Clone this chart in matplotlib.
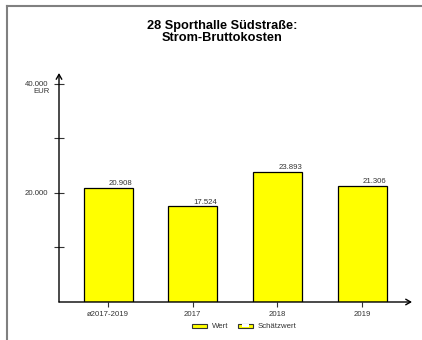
import matplotlib
matplotlib.use("Agg")
import matplotlib.pyplot as plt
from matplotlib.patches import Rectangle
from matplotlib.lines import Line2D

plt.rcParams['font.family'] = ['Liberation Sans', 'DejaVu Sans']

categories = ["ø2017-2019", "2017", "2018", "2019"]
values = [20908, 17524, 23893, 21306]
value_labels = ["20.908", "17.524", "23.893", "21.306"]
yticks = [10000, 20000, 30000, 40000]
ytick_labels = ["", "20.000", "", "40.000"]
title = "28 Sporthalle Südstraße:\nStrom-Bruttokosten"
unit = "EUR"
legend_labels = ["Wert", "Schätzwert"]

W, H = 422, 340
fig = plt.figure(figsize=(W / 100, H / 100), dpi=100)
fig.patch.set_facecolor("white")

# axes: x from px 59 to 412, y from px 302 (bottom) to 73 (top)
ax = fig.add_axes([59 / W, (H - 302) / H, (412 - 59) / W, (302 - 73) / H])
ax.set_facecolor("none")
x = list(range(len(categories)))
ax.bar(x, values, width=0.58, color="#ffff00", edgecolor="black", linewidth=0.9, zorder=3)
ax.set_xlim(-0.58, 3.59)
ax.set_ylim(0, 42000)

for s in ax.spines.values():
    s.set_visible(False)

# axes with arrows
ax.annotate("", xy=(0, 1), xytext=(0, 0), xycoords="axes fraction",
            arrowprops=dict(arrowstyle="->,head_length=0.35,head_width=0.2", lw=1.0, color="black",
                            shrinkA=0, shrinkB=0))
ax.annotate("", xy=(1, 0), xytext=(0, 0), xycoords="axes fraction",
            arrowprops=dict(arrowstyle="->,head_length=0.35,head_width=0.2", lw=1.0, color="black",
                            shrinkA=0, shrinkB=0))

ax.set_yticks(yticks)
ax.set_yticklabels(ytick_labels, fontsize=5.6, color="#333333")
ax.tick_params(axis="y", direction="inout", length=7, width=0.8, pad=4, color="#333333")
ax.set_xticks(x)
ax.set_xticklabels(categories, fontsize=5.6, color="#333333")
ax.tick_params(axis="x", direction="out", length=3.5, width=0.8, pad=3, color="#333333")

ax.annotate(unit, xy=(0, 40000), xycoords=("axes fraction", "data"),
            xytext=(-6.3, -3), textcoords="offset points", ha="right", va="top",
            fontsize=5.6, color="#333333")

for xi, v, lab in zip(x, values, value_labels):
    ax.text(xi + 0.29, v + 150, lab, ha="right", va="bottom", fontsize=5.6, color="#333333", zorder=4)

fig.text(222 / W, 1 - 19.5 / H, title, ha="center", va="top", fontsize=9.2,
         fontweight="bold", linespacing=1.1)

# legend
fig.patches.append(Rectangle((192 / W, (H - 328) / H), 15 / W, 4.5 / H, transform=fig.transFigure,
                             facecolor="#ffff00", edgecolor="#333333", linewidth=0.8))
fig.text(212 / W, (H - 326) / H, legend_labels[0], ha="left", va="center", fontsize=5.6, color="#333333")
fig.patches.append(Rectangle((238 / W, (H - 328) / H), 15 / W, 4.5 / H, transform=fig.transFigure,
                             facecolor="#ffff00", edgecolor="#333333", linewidth=0.8))
fig.patches.append(Rectangle((242 / W, (H - 327.2) / H), 7 / W, 3 / H, transform=fig.transFigure,
                             facecolor="white", edgecolor="none"))
fig.text(258 / W, (H - 326) / H, legend_labels[1], ha="left", va="center", fontsize=5.6, color="#333333")

# frame border
fig.lines.append(Line2D([7 / W, 7 / W], [0, 1 - 6 / H], transform=fig.transFigure, color="#808080", lw=1.5))
fig.lines.append(Line2D([7 / W, 1], [1 - 6 / H, 1 - 6 / H], transform=fig.transFigure, color="#808080", lw=1.5))

fig.savefig("out.png", dpi=100)
